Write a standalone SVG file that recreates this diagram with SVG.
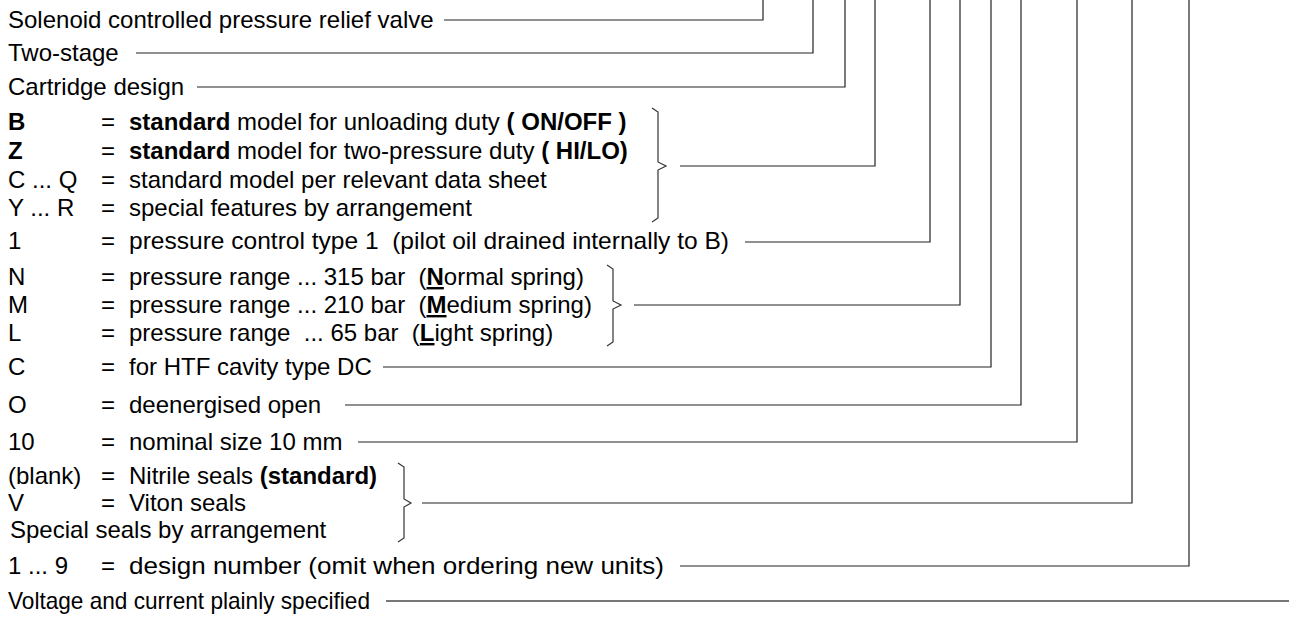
<svg xmlns="http://www.w3.org/2000/svg" width="1289" height="621" viewBox="0 0 1289 621">
<style>
text{font-family:"Liberation Sans",Arial,Helvetica,sans-serif;font-size:24px;fill:#000}
.b{font-weight:bold}
.u{font-weight:bold;text-decoration:underline}
.ln{fill:none;stroke:#222;stroke-width:1.2}
.br{fill:none;stroke:#333;stroke-width:1.2;stroke-linejoin:miter}
</style>
<rect width="1289" height="621" fill="#fff"/>
<g id="connectors">
<path class="ln" d="M444,20 H763 V0"/>
<path class="ln" d="M136,53 H813 V0"/>
<path class="ln" d="M197,87 H845 V0"/>
<path class="ln" d="M680,166 H875 V0"/>
<path class="ln" d="M745,242 H930 V0"/>
<path class="ln" d="M634,305 H960 V0"/>
<path class="ln" d="M383,367 H991 V0"/>
<path class="ln" d="M345,405 H1021 V0"/>
<path class="ln" d="M358,442 H1077 V0"/>
<path class="ln" d="M422,503 H1132 V0"/>
<path class="ln" d="M680,566 H1189 V0"/>
<path class="ln" d="M386,601 H1289" style="stroke:#777;stroke-width:2"/>
<path class="br" d="M652,108 L658,112 L658,162 L666,166 L658,170 L658,218 L652,222"/>
<path class="br" d="M607,265 L613,269 L613,301 L621,305 L613,309 L613,342 L607,346"/>
<path class="br" d="M398,463 L404,467 L404,499 L411,503 L404,507 L404,538 L398,542"/>
</g>
<g id="solenoid"><text x="8" y="28">Solenoid controlled pressure relief valve</text></g>
<g id="two-stage"><text x="8" y="61">Two-stage</text></g>
<g id="cartridge"><text x="8" y="95">Cartridge design</text></g>
<g id="model">
<text x="8" y="130" class="b">B</text><text x="101" y="130">=</text><text x="129" y="130" xml:space="preserve"><tspan class="b">standard</tspan> model for unloading duty <tspan class="b">( ON/OFF )</tspan></text>
<text x="8" y="159" class="b">Z</text><text x="101" y="159">=</text><text x="129" y="159" xml:space="preserve"><tspan class="b">standard</tspan> model for two-pressure duty <tspan class="b">( HI/LO)</tspan></text>
<text x="8" y="188">C ... Q</text><text x="101" y="188">=</text><text x="129" y="188">standard model per relevant data sheet</text>
<text x="8" y="216">Y ... R</text><text x="101" y="216">=</text><text x="129" y="216">special features by arrangement</text>
</g>
<g id="control"><text x="8" y="249">1</text><text x="101" y="249">=</text><text x="129" y="249" xml:space="preserve" textLength="600" lengthAdjust="spacingAndGlyphs">pressure control type 1  (pilot oil drained internally to B)</text></g>
<g id="pressure-range">
<text x="8" y="285">N</text><text x="101" y="285">=</text><text x="129" y="285" xml:space="preserve">pressure range ... 315 bar  (<tspan class="u">N</tspan>ormal spring)</text>
<text x="8" y="313">M</text><text x="101" y="313">=</text><text x="129" y="313" xml:space="preserve">pressure range ... 210 bar  (<tspan class="u">M</tspan>edium spring)</text>
<text x="8" y="341">L</text><text x="101" y="341">=</text><text x="129" y="341" xml:space="preserve">pressure range  ... 65 bar  (<tspan class="u">L</tspan>ight spring)</text>
</g>
<g id="cavity"><text x="8" y="375">C</text><text x="101" y="375">=</text><text x="129" y="375">for HTF cavity type DC</text></g>
<g id="deenergised"><text x="8" y="413">O</text><text x="101" y="413">=</text><text x="129" y="413">deenergised open</text></g>
<g id="size"><text x="8" y="450">10</text><text x="101" y="450">=</text><text x="129" y="450">nominal size 10 mm</text></g>
<g id="seals">
<text x="8" y="484">(blank)</text><text x="101" y="484">=</text><text x="129" y="484">Nitrile seals <tspan class="b">(standard)</tspan></text>
<text x="8" y="511">V</text><text x="101" y="511">=</text><text x="129" y="511">Viton seals</text>
<text x="10" y="538">Special seals by arrangement</text>
</g>
<g id="design"><text x="8" y="574">1 ... 9</text><text x="101" y="574">=</text><text x="129" y="574" textLength="535" lengthAdjust="spacingAndGlyphs">design number (omit when ordering new units)</text></g>
<g id="voltage"><text x="8" y="609" textLength="362" lengthAdjust="spacingAndGlyphs">Voltage and current plainly specified</text></g>
</svg>
